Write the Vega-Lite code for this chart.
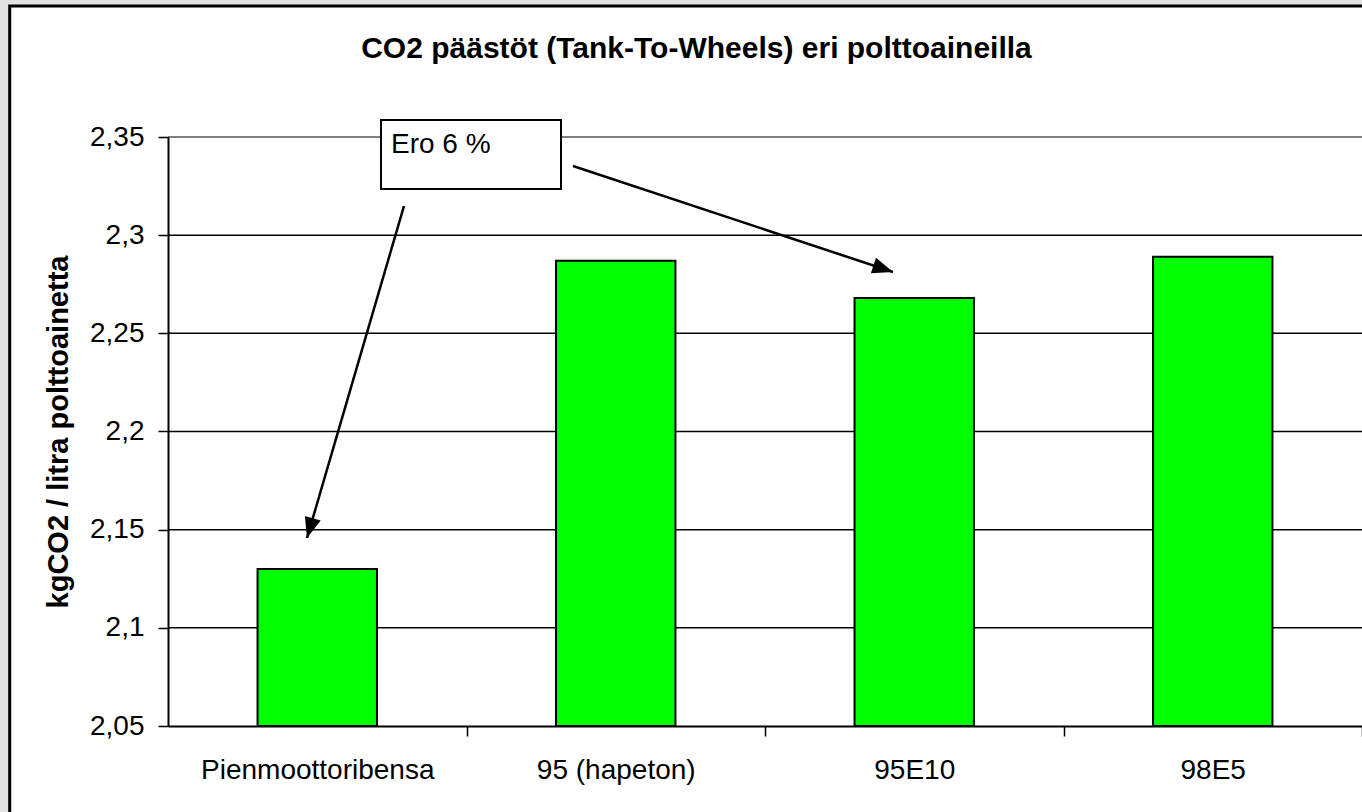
{
  "$schema": "https://vega.github.io/schema/vega-lite/v6.json",
  "autosize": {"type": "none"},
  "padding": {"left": 168, "top": 137, "right": 0, "bottom": 86},
  "width": 1194,
  "height": 589,
  "background": "#e3e3e3",
  "config": {
    "font": "Liberation Sans",
    "view": {"stroke": null}
  },
  "title": {
    "text": "CO2 päästöt (Tank-To-Wheels) eri polttoaineilla",
    "fontSize": 30,
    "fontWeight": "bold",
    "color": "black",
    "anchor": "middle",
    "frame": "group",
    "baseline": "alphabetic",
    "offset": -83.5,
    "dx": -68.5
  },
  "datasets": {
    "bars": [
      {"fuel": "Pienmoottoribensa", "co2": 2.13},
      {"fuel": "95 (hapeton)", "co2": 2.287},
      {"fuel": "95E10", "co2": 2.268},
      {"fuel": "98E5", "co2": 2.289}
    ],
    "grid": [{"v": 2.1}, {"v": 2.15}, {"v": 2.2}, {"v": 2.25}, {"v": 2.3}],
    "arrows": [
      {"arrow": "a", "x": 1.3568, "y": 2.33523, "x2": 2.4288, "y2": 2.28124},
      {"arrow": "b", "x": 0.7906, "y": 2.31486, "x2": 0.4657, "y2": 2.14575}
    ],
    "notes": [
      {"label": "Ero 6 %", "x": 0.7136, "x2": 1.3166, "y": 2.35866, "y2": 2.32351, "tx": 0.7471, "ty": 2.342}
    ]
  },
  "resolve": {"scale": {"x": "independent"}},
  "layer": [
    {
      "data": {"values": [{}]},
      "mark": {"type": "rect", "fill": "white", "stroke": "black", "strokeWidth": 3},
      "encoding": {
        "x": {"datum": -0.5303, "type": "quantitative", "scale": {"domain": [0, 4], "nice": false, "zero": false}, "axis": null},
        "x2": {"datum": 4.1},
        "y": {"datum": 2.41672, "type": "quantitative", "scale": {"domain": [2.05, 2.35], "nice": false, "zero": false},
          "axis": {
            "title": "kgCO2 / litra polttoainetta",
            "values": [2.05, 2.1, 2.15, 2.2, 2.25, 2.3, 2.35],
            "labelExpr": "replace(format(datum.value, '.2~f'), '.', ',')",
            "labelFontSize": 28, "labelColor": "black", "labelPadding": 14,
            "labelFlush": false, "labelOverlap": false,
            "tickSize": 10, "tickWidth": 1.5, "tickColor": "black",
            "domainColor": "black", "domainWidth": 2, "grid": false,
            "titleFontSize": 29, "titleFontWeight": "bold", "titleColor": "black",
            "titlePadding": 16, "zindex": 1
          }},
        "y2": {"datum": 1.98}
      }
    },
    {
      "data": {"name": "grid"},
      "mark": {"type": "rule", "color": "black", "strokeWidth": 1.5},
      "encoding": {
        "y": {"field": "v", "type": "quantitative", "scale": {"domain": [2.05, 2.35], "nice": false, "zero": false},
          "axis": {
            "title": "kgCO2 / litra polttoainetta",
            "values": [2.05, 2.1, 2.15, 2.2, 2.25, 2.3, 2.35],
            "labelExpr": "replace(format(datum.value, '.2~f'), '.', ',')",
            "labelFontSize": 28, "labelColor": "black", "labelPadding": 14,
            "labelFlush": false, "labelOverlap": false,
            "tickSize": 10, "tickWidth": 1.5, "tickColor": "black",
            "domainColor": "black", "domainWidth": 2, "grid": false,
            "titleFontSize": 29, "titleFontWeight": "bold", "titleColor": "black",
            "titlePadding": 16, "zindex": 1
          }}
      }
    },
    {
      "data": {"values": [{}]},
      "mark": {"type": "rule", "color": "#808080", "strokeWidth": 2},
      "encoding": {
        "y": {"datum": 2.35, "type": "quantitative", "scale": {"domain": [2.05, 2.35], "nice": false, "zero": false},
          "axis": {
            "title": "kgCO2 / litra polttoainetta",
            "values": [2.05, 2.1, 2.15, 2.2, 2.25, 2.3, 2.35],
            "labelExpr": "replace(format(datum.value, '.2~f'), '.', ',')",
            "labelFontSize": 28, "labelColor": "black", "labelPadding": 14,
            "labelFlush": false, "labelOverlap": false,
            "tickSize": 10, "tickWidth": 1.5, "tickColor": "black",
            "domainColor": "black", "domainWidth": 2, "grid": false,
            "titleFontSize": 29, "titleFontWeight": "bold", "titleColor": "black",
            "titlePadding": 16, "zindex": 1
          }}
      }
    },
    {
      "data": {"name": "bars"},
      "mark": {"type": "bar", "fill": "#00ff00", "stroke": "black", "strokeWidth": 2},
      "encoding": {
        "x": {
          "field": "fuel", "type": "nominal", "sort": null,
          "scale": {"paddingInner": 0.6, "paddingOuter": 0.3},
          "axis": {
            "title": null, "labelAngle": 0, "labelFontSize": 28, "labelColor": "black", "labelLimit": 0,
            "tickSize": 10, "tickWidth": 1.5, "tickColor": "black",
            "tickOffset": 149.25, "labelOffset": -149.25,
            "domainColor": "black", "domainWidth": 2, "labelPadding": 20, "zindex": 1
          }
        },
        "y": {
          "field": "co2", "type": "quantitative",
          "scale": {"domain": [2.05, 2.35], "nice": false, "zero": false},
          "axis": {
            "title": "kgCO2 / litra polttoainetta",
            "values": [2.05, 2.1, 2.15, 2.2, 2.25, 2.3, 2.35],
            "labelExpr": "replace(format(datum.value, '.2~f'), '.', ',')",
            "labelFontSize": 28, "labelColor": "black", "labelPadding": 14,
            "labelFlush": false, "labelOverlap": false,
            "tickSize": 10, "tickWidth": 1.5, "tickColor": "black",
            "domainColor": "black", "domainWidth": 2, "grid": false,
            "titleFontSize": 29, "titleFontWeight": "bold", "titleColor": "black",
            "titlePadding": 16, "zindex": 1
          }
        },
        "y2": {"datum": 2.05}
      }
    },
    {
      "data": {"name": "notes"},
      "mark": {"type": "rect", "fill": "white", "stroke": "black", "strokeWidth": 2},
      "encoding": {
        "x": {"field": "x", "type": "quantitative", "scale": {"domain": [0, 4], "nice": false, "zero": false}, "axis": null},
        "x2": {"field": "x2"},
        "y": {"field": "y", "type": "quantitative", "scale": {"domain": [2.05, 2.35], "nice": false, "zero": false}, "title": "kgCO2 / litra polttoainetta"},
        "y2": {"field": "y2"}
      }
    },
    {
      "data": {"name": "notes"},
      "mark": {"type": "text", "align": "left", "baseline": "alphabetic", "fontSize": 28, "color": "black"},
      "encoding": {
        "x": {"field": "tx", "type": "quantitative", "scale": {"domain": [0, 4], "nice": false, "zero": false}, "axis": null},
        "y": {"field": "ty", "type": "quantitative", "scale": {"domain": [2.05, 2.35], "nice": false, "zero": false}, "title": "kgCO2 / litra polttoainetta"},
        "text": {"field": "label"}
      }
    },
    {
      "data": {"name": "arrows"},
      "mark": {"type": "rule", "color": "black", "strokeWidth": 2.5},
      "encoding": {
        "x": {"field": "x", "type": "quantitative", "scale": {"domain": [0, 4], "nice": false, "zero": false}, "axis": null},
        "x2": {"field": "x2"},
        "y": {"field": "y", "type": "quantitative", "scale": {"domain": [2.05, 2.35], "nice": false, "zero": false}, "title": "kgCO2 / litra polttoainetta"},
        "y2": {"field": "y2"}
      }
    },
    {
      "data": {"name": "arrows"},
      "transform": [{"filter": "datum.arrow == 'a'"}],
      "mark": {"type": "point", "shape": "M0,0 L0.4,1 L-0.4,1 Z", "filled": true, "color": "black", "opacity": 1, "strokeWidth": 0, "size": 1700, "angle": 108.3},
      "encoding": {
        "x": {"field": "x2", "type": "quantitative", "scale": {"domain": [0, 4], "nice": false, "zero": false}, "axis": null},
        "y": {"field": "y2", "type": "quantitative", "scale": {"domain": [2.05, 2.35], "nice": false, "zero": false}, "title": "kgCO2 / litra polttoainetta"}
      }
    },
    {
      "data": {"name": "arrows"},
      "transform": [{"filter": "datum.arrow == 'b'"}],
      "mark": {"type": "point", "shape": "M0,0 L0.4,1 L-0.4,1 Z", "filled": true, "color": "black", "opacity": 1, "strokeWidth": 0, "size": 1700, "angle": 196.3},
      "encoding": {
        "x": {"field": "x2", "type": "quantitative", "scale": {"domain": [0, 4], "nice": false, "zero": false}, "axis": null},
        "y": {"field": "y2", "type": "quantitative", "scale": {"domain": [2.05, 2.35], "nice": false, "zero": false}, "title": "kgCO2 / litra polttoainetta"}
      }
    }
  ]
}
